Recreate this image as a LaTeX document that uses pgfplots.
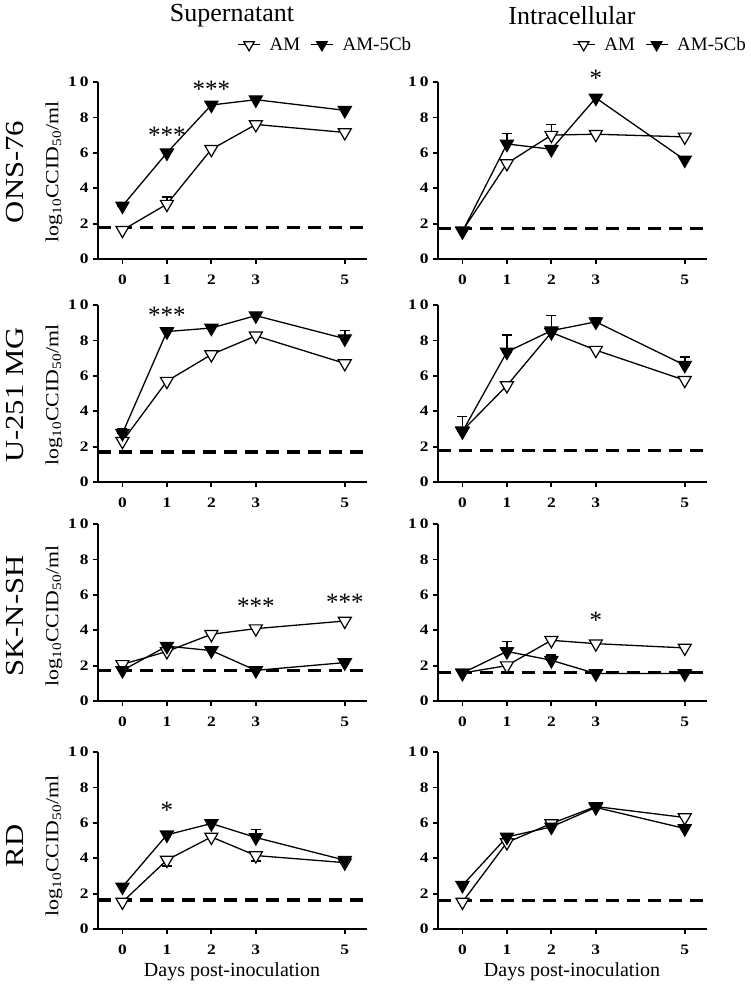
\documentclass[border=0pt]{standalone}
\usepackage{fontspec}
\setmainfont{Liberation Serif}
\newfontfamily\tickfont[FakeStretch=1.2]{Liberation Serif}
\newfontfamily\widefont[FakeStretch=1.18]{Liberation Serif}
\usepackage{pgfplots}
\usepackage{pgfplotstable}
\pgfplotsset{compat=1.18}

\pgfplotstableread{
x y
0 1.63
1 3.1
2 6.2
3 7.6
5 7.15
}\OSam
\pgfplotstableread{
x y
0 3.0
1 6.0
2 8.7
3 9.0
5 8.4
}\OSamc
\pgfplotstableread{
x y ep em
1 3.1 0.4 0
0 3.0 0.15 0
}\OSerr
\pgfplotstableread{
x y
0 1.6
1 5.4
2 7.0
3 7.05
5 6.9
}\OIam
\pgfplotstableread{
x y
0 1.55
1 6.5
2 6.2
3 9.1
5 5.6
}\OIamc
\pgfplotstableread{
x y ep em
1 5.4 0.2 0
2 7.0 0.6 0
3 7.05 0.15 0
1 6.5 0.6 0
}\OIerr
\pgfplotstableread{
x y
0 2.3
1 5.7
2 7.2
3 8.26
5 6.7
}\USam
\pgfplotstableread{
x y
0 2.75
1 8.5
2 8.7
3 9.4
5 8.1
}\USamc
\pgfplotstableread{
x y ep em
0 2.75 0.25 0
5 8.1 0.45 0
}\USerr
\pgfplotstableread{
x y
0 2.9
1 5.45
2 8.45
3 7.45
5 5.75
}\UIam
\pgfplotstableread{
x y
0 2.85
1 7.35
2 8.55
3 9.05
5 6.6
}\UIamc
\pgfplotstableread{
x y ep em
0 2.85 0.85 0
1 7.35 0.95 0
2 8.55 0.85 0
3 9.05 0.25 0
5 6.6 0.45 0
}\UIerr
\pgfplotstableread{
x y
0 2.07
1 2.8
2 3.77
3 4.09
5 4.52
}\SSam
\pgfplotstableread{
x y
0 1.73
1 3.1
2 2.85
3 1.73
5 2.17
}\SSamc
\pgfplotstableread{
x y
0 1.58
1 2.0
2 3.43
3 3.24
5 3.0
}\SIam
\pgfplotstableread{
x y
0 1.58
1 2.8
2 2.3
3 1.55
5 1.55
}\SIamc
\pgfplotstableread{
x y ep em
1 2.8 0.55 0
2 2.3 0.3 0
}\SIerr
\pgfplotstableread{
x y
0 1.53
1 3.9
2 5.2
3 4.15
5 3.75
}\RSam
\pgfplotstableread{
x y
0 2.38
1 5.32
2 5.96
3 5.17
5 3.89
}\RSamc
\pgfplotstableread{
x y ep em
1 3.9 0 0.35
3 4.15 0 0.3
3 5.17 0.45 0
}\RSerr
\pgfplotstableread{
x y
0 1.53
1 4.89
2 5.96
3 6.92
5 6.3
}\RIam
\pgfplotstableread{
x y
0 2.47
1 5.2
2 5.77
3 6.87
5 5.68
}\RIamc

\tikzset{starlab/.style={font=\fontsize{25}{25}\selectfont}}

\pgfplotsset{
  panel/.style={
    scale only axis, width=269pt, height=177pt,
    xmin=-0.55, xmax=5.5, ymin=0, ymax=10,
    axis x line*=bottom, axis y line*=left,
    axis line style={line width=1.8pt, black},
    xtick={0,1,2,3,5}, ytick={0,2,4,6,8,10},
    yticklabels={0,2,4,6,8,1\hspace{3pt}0},
    tick align=outside, major tick length=5pt,
    tick style={line width=1.8pt, black},
    /pgf/number format/assume math mode=true,
    ticklabel style={font=\tickfont\bfseries\fontsize{14.5}{14.5}\selectfont},
    xticklabel style={yshift=-7pt},
    yticklabel style={xshift=-1pt},
    clip=false,
    legend style={draw=none, fill=none, font=\fontsize{19}{19}\selectfont,
      legend columns=2, legend cell align=left,
      /tikz/every odd column/.append style={column sep=7pt},
      /tikz/every even column/.append style={column sep=8pt}},
    legend image code/.code={
      \draw[mark repeat=2, mark phase=2, #1, mark size=6pt] plot coordinates {(0pt,0pt) (11pt,0pt) (22pt,0pt)};},
  },
  amop/.style={black, line width=1.3pt, mark=triangle*, mark size=7.5pt,
    mark options={rotate=180, fill=white, draw=black, line width=1.2pt}},
  amcl/.style={black, line width=1.3pt, mark=triangle*, mark size=7.5pt,
    mark options={rotate=180, fill=black, draw=black, line width=1.2pt}},
  errb/.style={forget plot, draw=none, mark=none,
    error bars/.cd, y dir=both, y explicit,
    error bar style={line width=1.5pt, black},
    error mark options={rotate=90, mark size=5pt, line width=1.5pt, black}},
  lod/.style={forget plot, black, line width=3.2pt, dash pattern=on 13pt off 8pt},
}

\begin{document}
\begin{tikzpicture}
\useasboundingbox (0,0) rectangle (750pt,-988pt);

\begin{axis}[panel, at={(98pt,-259pt)}, anchor=south west,
  legend style={at={(rel axis cs:0.845,1.21)}, anchor=center}]
\addplot[errb] table[x=x,y=y,y error plus=ep,y error minus=em]{\OSerr};
\addplot[amop] table[x=x,y=y]{\OSam}; \addlegendentry{AM}
\addplot[amcl] table[x=x,y=y]{\OSamc}; \addlegendentry{AM-5Cb}
\addplot[lod] coordinates {(-0.55,1.76) (5.4,1.76)};
\node[starlab] at (axis cs:1,7.0) {***};
\node[starlab] at (axis cs:2,9.6) {***};
\end{axis}
\begin{axis}[panel, at={(438pt,-259pt)}, anchor=south west,
  legend style={at={(rel axis cs:0.825,1.21)}, anchor=center}]
\addplot[errb] table[x=x,y=y,y error plus=ep,y error minus=em]{\OIerr};
\addplot[amop] table[x=x,y=y]{\OIam}; \addlegendentry{AM}
\addplot[amcl] table[x=x,y=y]{\OIamc}; \addlegendentry{AM-5Cb}
\addplot[lod] coordinates {(-0.55,1.72) (5.4,1.72)};
\node[starlab] at (axis cs:3,10.2) {*};
\end{axis}

\begin{axis}[panel, at={(98pt,-482pt)}, anchor=south west]
\addplot[errb] table[x=x,y=y,y error plus=ep,y error minus=em]{\USerr};
\addplot[amop] table[x=x,y=y]{\USam};
\addplot[amcl] table[x=x,y=y]{\USamc};
\addplot[lod] coordinates {(-0.55,1.7) (5.4,1.7)};
\node[starlab] at (axis cs:1,9.4) {***};
\end{axis}
\begin{axis}[panel, at={(438pt,-482pt)}, anchor=south west]
\addplot[errb] table[x=x,y=y,y error plus=ep,y error minus=em]{\UIerr};
\addplot[amop] table[x=x,y=y]{\UIam};
\addplot[amcl] table[x=x,y=y]{\UIamc};
\addplot[lod] coordinates {(-0.55,1.76) (5.4,1.76)};
\end{axis}

\begin{axis}[panel, at={(98pt,-701pt)}, anchor=south west]
\addplot[amop] table[x=x,y=y]{\SSam};
\addplot[amcl] table[x=x,y=y]{\SSamc};
\addplot[lod] coordinates {(-0.55,1.71) (5.4,1.71)};
\node[starlab] at (axis cs:3,5.35) {***};
\node[starlab] at (axis cs:5,5.6) {***};
\end{axis}
\begin{axis}[panel, at={(438pt,-701pt)}, anchor=south west]
\addplot[errb] table[x=x,y=y,y error plus=ep,y error minus=em]{\SIerr};
\addplot[amop] table[x=x,y=y]{\SIam};
\addplot[amcl] table[x=x,y=y]{\SIamc};
\addplot[lod] coordinates {(-0.55,1.6) (5.4,1.6)};
\node[starlab] at (axis cs:3,4.55) {*};
\end{axis}

\begin{axis}[panel, at={(98pt,-929pt)}, anchor=south west]
\addplot[errb] table[x=x,y=y,y error plus=ep,y error minus=em]{\RSerr};
\addplot[amop] table[x=x,y=y]{\RSam};
\addplot[amcl] table[x=x,y=y]{\RSamc};
\addplot[lod] coordinates {(-0.55,1.64) (5.4,1.64)};
\node[starlab] at (axis cs:1,6.7) {*};
\end{axis}
\begin{axis}[panel, at={(438pt,-929pt)}, anchor=south west]
\addplot[amop] table[x=x,y=y]{\RIam};
\addplot[amcl] table[x=x,y=y]{\RIamc};
\addplot[lod] coordinates {(-0.55,1.62) (5.4,1.62)};
\end{axis}

\node[font=\fontsize{26}{26}\selectfont] at (232pt,-16pt) {Supernatant};
\node[font=\fontsize{26}{26}\selectfont] at (572pt,-16pt) {Intracellular};
\foreach \yc/\lab in {172/ONS-76, 395/U-251 MG, 616/SK-N-SH, 846/RD}{
  \node[rotate=90, font=\widefont\fontsize{26}{26}\selectfont] at (15pt,-\yc pt) {\lab};
  \node[rotate=90, font=\widefont\fontsize{18.5}{18.5}\selectfont] at (54pt,-\yc pt) {log\textsubscript{10}CCID\textsubscript{50}/ml};
}
\node[font=\fontsize{20}{20}\selectfont] at (232pt,-972pt) {Days post-inoculation};
\node[font=\fontsize{20}{20}\selectfont] at (572pt,-972pt) {Days post-inoculation};
\end{tikzpicture}
\end{document}
